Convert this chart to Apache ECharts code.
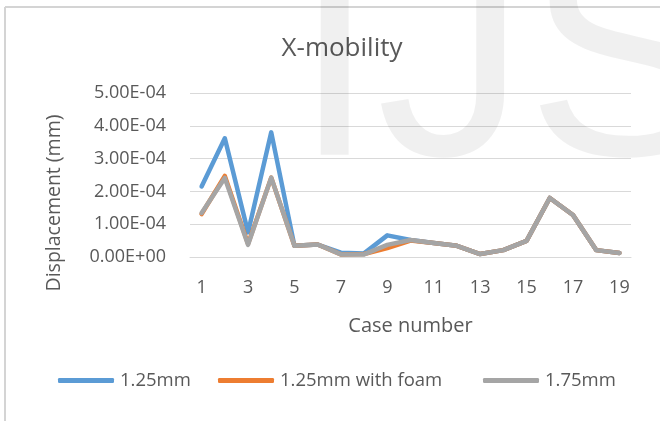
<!DOCTYPE html>
<html>
<head>
<meta charset="utf-8">
<script src="https://cdn.jsdelivr.net/npm/echarts@6/dist/echarts.min.js"></script>
<style>
  html, body { margin: 0; padding: 0; background: #ffffff; }
  #chart { width: 660px; height: 421px; }
</style>
</head>
<body>
<div id="chart"></div>
<script>
// Case numbers along the horizontal axis
const caseNumbers = ['1','2','3','4','5','6','7','8','9','10','11','12','13','14','15','16','17','18','19'];

// X-direction displacement (mm) per case
const plate125 = [2.15e-4, 3.62e-4, 0.75e-4, 3.80e-4, 0.34e-4, 0.38e-4, 0.13e-4, 0.11e-4, 0.66e-4, 0.52e-4,
                  0.43e-4, 0.34e-4, 0.09e-4, 0.21e-4, 0.49e-4, 1.80e-4, 1.28e-4, 0.21e-4, 0.12e-4];
const plate125Foam = [1.31e-4, 2.47e-4, 0.40e-4, 2.42e-4, 0.34e-4, 0.38e-4, 0.08e-4, 0.09e-4, 0.27e-4, 0.50e-4,
                      0.43e-4, 0.34e-4, 0.09e-4, 0.21e-4, 0.49e-4, 1.80e-4, 1.28e-4, 0.21e-4, 0.12e-4];
const plate175 = [1.34e-4, 2.41e-4, 0.37e-4, 2.42e-4, 0.34e-4, 0.38e-4, 0.08e-4, 0.08e-4, 0.37e-4, 0.52e-4,
                  0.43e-4, 0.34e-4, 0.09e-4, 0.21e-4, 0.49e-4, 1.80e-4, 1.28e-4, 0.21e-4, 0.12e-4];

// Vertical axis tick labels, one per 1.00E-04 step
const yTickLabels = ['0.00E+00', '1.00E-04', '2.00E-04', '3.00E-04', '4.00E-04', '5.00E-04'];

const seriesNames = ['1.25mm', '1.25mm with foam', '1.75mm'];
const seriesColors = ['#5b9bd5', '#ed7d31', '#a5a5a5'];
const seriesData = [plate125, plate125Foam, plate175];

const FONT = '"Open Sans", "Noto Sans", sans-serif';
const TEXT = '#595959';

const chart = echarts.init(document.getElementById('chart'), null, { renderer: 'canvas' });

const legendLefts = [58, 218, 483];

chart.setOption({
  backgroundColor: '#ffffff',
  animation: false,
  title: {
    text: 'X-mobility',
    left: 337,
    top: 31,
    textAlign: 'center',
    textStyle: { fontFamily: FONT, fontSize: 26, fontWeight: 'normal', color: TEXT }
  },
  legend: seriesNames.map((name, i) => ({
    data: [name],
    left: legendLefts[i],
    top: 371,
    padding: 0,
    itemWidth: 56,
    itemHeight: 5,
    itemGap: 0,
    icon: 'roundRect',
    textStyle: { fontFamily: FONT, fontSize: 18.5, color: TEXT, padding: [0, 0, 0, 1] }
  })),
  grid: { left: 190, right: 29, top: 93, bottom: 164 },
  xAxis: {
    type: 'category',
    data: caseNumbers,
    boundaryGap: true,
    name: 'Case number',
    nameLocation: 'middle',
    nameGap: 59,
    nameTextStyle: { fontFamily: FONT, fontSize: 20, color: TEXT },
    axisLine: { lineStyle: { color: '#d9d9d9', width: 1 } },
    axisTick: { show: false },
    axisLabel: { interval: 1, margin: 22, fontFamily: FONT, fontSize: 18, color: TEXT }
  },
  yAxis: {
    type: 'value',
    min: 0,
    max: 5e-4,
    interval: 1e-4,
    name: 'Displacement (mm)',
    nameLocation: 'middle',
    nameGap: 126,
    nameTextStyle: { fontFamily: FONT, fontSize: 19.5, color: TEXT, padding: [0, 56, 0, 0] },
    axisLine: { show: false },
    axisTick: { show: false },
    splitLine: { lineStyle: { color: '#d9d9d9', width: 1 } },
    axisLabel: {
      margin: 24,
      fontFamily: FONT,
      fontSize: 18,
      color: TEXT,
      formatter: (v) => yTickLabels[Math.round(v / 1e-4)]
    }
  },
  series: seriesNames.map((name, i) => ({
    name: name,
    type: 'line',
    data: seriesData[i],
    showSymbol: false,
    symbol: 'none',
    color: seriesColors[i],
    lineStyle: { width: 4.5, color: seriesColors[i], join: 'round', cap: 'round' },
    z: 2 + i
  })),
  graphic: [
    // frame lines along the top and left edges
    { type: 'line', shape: { x1: 5, y1: 7, x2: 660, y2: 7 }, style: { stroke: '#d4d4d4', lineWidth: 2 }, silent: true, z: 1 },
    { type: 'line', shape: { x1: 5, y1: 7, x2: 5, y2: 421 }, style: { stroke: '#d4d4d4', lineWidth: 2 }, silent: true, z: 1 },
    // faint publisher mark behind the plot
    {
      type: 'text',
      x: 293,
      y: 72,
      silent: true,
      z: 100,
      style: {
        text: 'IJS',
        font: '300px "Liberation Sans", Arial, sans-serif',
        fill: 'rgba(0,0,0,0.06)',
        align: 'left',
        verticalAlign: 'middle'
      }
    }
  ]
});
</script>
</body>
</html>
